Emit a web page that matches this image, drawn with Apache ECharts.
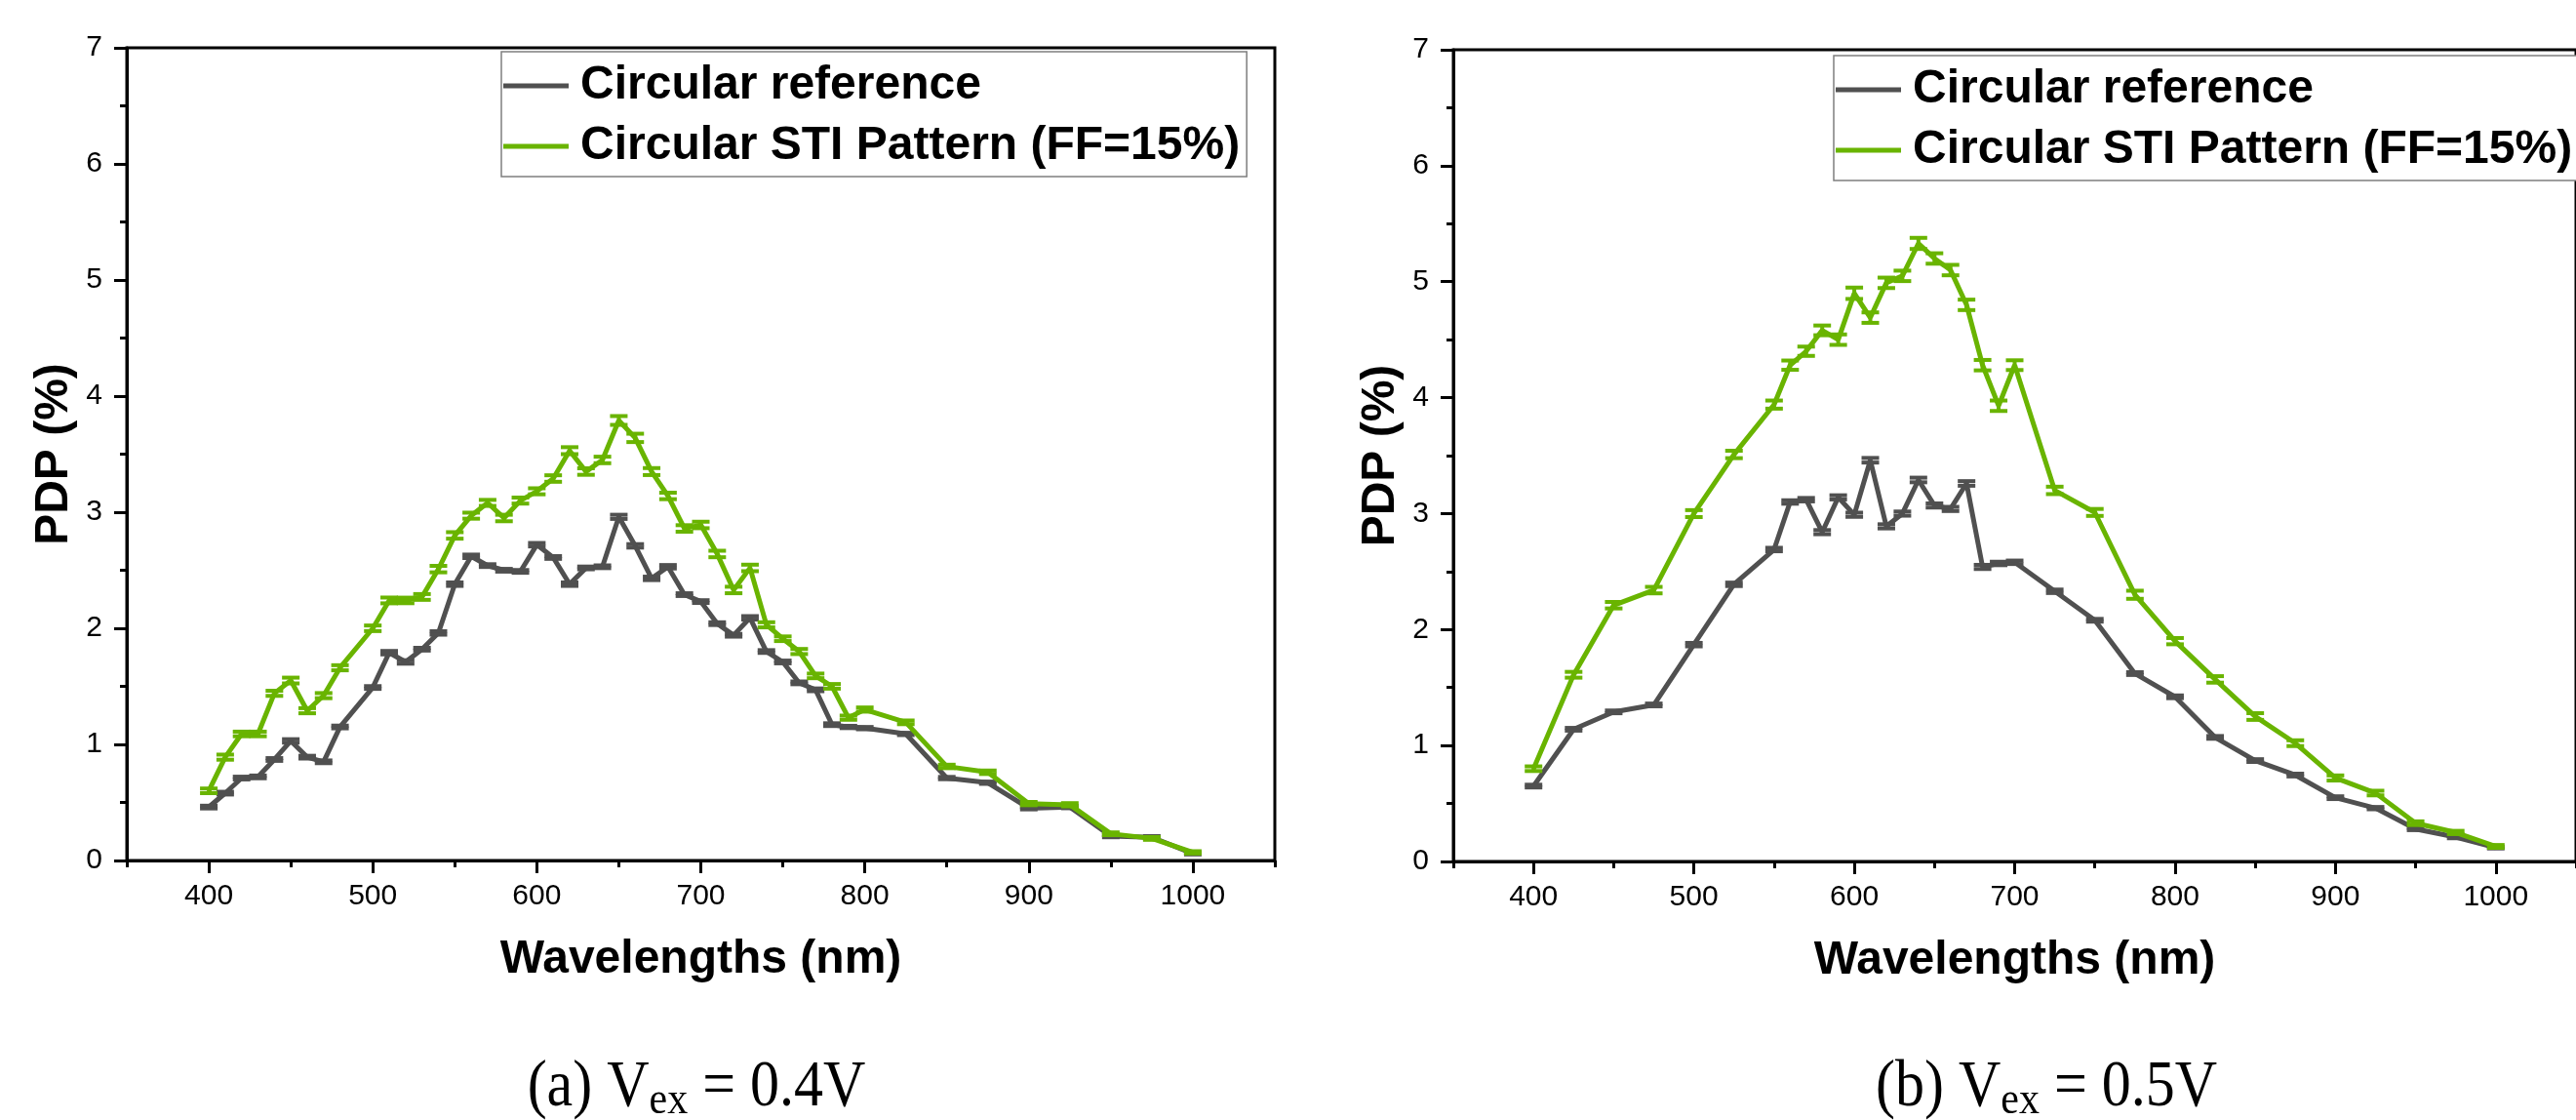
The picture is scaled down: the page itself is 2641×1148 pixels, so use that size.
<!DOCTYPE html>
<html><head><meta charset="utf-8">
<script src="https://cdn.jsdelivr.net/npm/echarts@6/dist/echarts.min.js"></script>
<style>html,body{margin:0;padding:0;background:#fff}#c{width:2641px;height:1148px}</style>
</head><body><div id="c"></div>
<script>
// ---- Panel (a): Vex = 0.4V ----
const wlA = [400,410,420,430,440,450,460,470,480,500,510,520,530,540,550,560,570,580,590,600,610,620,630,640,650,660,670,680,690,700,710,720,730,740,750,760,770,780,790,800,825,850,875,900,925,950,975,1000];
const refA = [0.46,0.58,0.71,0.72,0.87,1.03,0.89,0.85,1.15,1.49,1.79,1.71,1.82,1.96,2.38,2.62,2.54,2.50,2.49,2.72,2.61,2.38,2.52,2.53,2.96,2.71,2.43,2.53,2.29,2.23,2.04,1.94,2.09,1.80,1.71,1.53,1.47,1.17,1.15,1.14,1.09,0.71,0.67,0.45,0.46,0.21,0.20,0.06];
const stiA = [0.60,0.89,1.09,1.09,1.44,1.55,1.29,1.42,1.66,2.00,2.24,2.24,2.27,2.51,2.80,2.97,3.08,2.95,3.10,3.18,3.29,3.53,3.35,3.45,3.79,3.64,3.35,3.14,2.86,2.89,2.64,2.33,2.52,2.03,1.91,1.80,1.59,1.50,1.23,1.30,1.19,0.81,0.76,0.49,0.48,0.23,0.19,0.07];
const errRefA = [0.012,0.012,0.012,0.012,0.012,0.015,0.012,0.012,0.012,0.012,0.015,0.015,0.012,0.015,0.015,0.015,0.012,0.012,0.012,0.015,0.012,0.015,0.012,0.012,0.018,0.015,0.015,0.015,0.012,0.012,0.012,0.012,0.015,0.012,0.012,0.012,0.012,0.012,0.010,0.010,0.010,0.010,0.010,0.010,0.010,0.010,0.010,0.008];
const errStiA = [0.020,0.022,0.020,0.020,0.022,0.025,0.022,0.022,0.022,0.024,0.025,0.024,0.025,0.028,0.028,0.026,0.026,0.028,0.026,0.026,0.028,0.030,0.028,0.028,0.038,0.036,0.030,0.028,0.028,0.028,0.028,0.028,0.028,0.022,0.020,0.022,0.020,0.020,0.018,0.018,0.016,0.015,0.015,0.014,0.014,0.012,0.012,0.010];

// ---- Panel (b): Vex = 0.5V ----
const wlB = [400,425,450,475,500,525,550,560,570,580,590,600,610,620,630,640,650,660,670,680,690,700,725,750,775,800,825,850,875,900,925,950,975,1000];
const refB = [0.65,1.14,1.29,1.35,1.87,2.39,2.69,3.10,3.12,2.84,3.14,2.99,3.46,2.89,3.00,3.29,3.07,3.04,3.26,2.54,2.57,2.58,2.33,2.08,1.62,1.42,1.07,0.87,0.745,0.55,0.46,0.28,0.21,0.12];
const stiB = [0.80,1.61,2.21,2.34,3.00,3.51,3.94,4.28,4.40,4.58,4.50,4.90,4.69,4.99,5.05,5.33,5.20,5.10,4.80,4.28,3.93,4.28,3.20,3.01,2.30,1.90,1.57,1.25,1.02,0.72,0.59,0.33,0.25,0.13];
const errRefB = [0.012,0.012,0.012,0.012,0.015,0.015,0.015,0.015,0.015,0.018,0.018,0.018,0.020,0.018,0.018,0.020,0.018,0.018,0.020,0.018,0.015,0.015,0.015,0.012,0.012,0.012,0.012,0.012,0.012,0.012,0.010,0.010,0.010,0.008];
const errStiB = [0.020,0.025,0.028,0.028,0.030,0.032,0.035,0.040,0.040,0.042,0.045,0.049,0.045,0.045,0.045,0.048,0.045,0.045,0.045,0.045,0.045,0.042,0.032,0.030,0.035,0.027,0.028,0.029,0.025,0.022,0.020,0.016,0.014,0.012];

// ---- Axes / text ----
const xMajorTicks = [400,500,600,700,800,900,1000];
const xMinorTicks = [350,450,550,650,750,850,950,1050];
const legendNames = ['Circular reference','Circular STI Pattern (FF=15%)'];
const xTitle = 'Wavelengths (nm)';
const yTitle = 'PDP (%)';
const captionA = ['(a) V','ex',' = 0.4V'];
const captionB = ['(b) V','ex',' = 0.5V'];

const GRAY = '#505050', GREEN = '#69b400';
const SANS = 'Liberation Sans', SERIF = 'Liberation Serif';

const grids = [
  {left:130, top:49, width:1177, height:833},
  {left:1490, top:51, width:1177, height:832}
];

function errRender(color){
  return function(params, api){
    const x = api.value(0), y = api.value(1), e = api.value(2);
    const hi = api.coord([x, y + e]), lo = api.coord([x, y - e]);
    const hw = 9;
    const s = {stroke: color, lineWidth: 4};
    return {type:'group', children:[
      {type:'line', shape:{x1:hi[0], y1:hi[1], x2:lo[0], y2:lo[1]}, style:s},
      {type:'line', shape:{x1:hi[0]-hw, y1:hi[1], x2:hi[0]+hw, y2:hi[1]}, style:s},
      {type:'line', shape:{x1:lo[0]-hw, y1:lo[1], x2:lo[0]+hw, y2:lo[1]}, style:s}
    ]};
  };
}

const xAxis = [], yAxis = [], series = [], legend = [], graphic = [];
const panels = [
  {wl: wlA, ref: refA, sti: stiA, eRef: errRefA, eSti: errStiA, leg: {left:514, top:53}, cap: captionA, capX: 714},
  {wl: wlB, ref: refB, sti: stiB, eRef: errRefB, eSti: errStiB, leg: {left:1880, top:57}, cap: captionB, capX: 2098}
];

panels.forEach((p, g) => {
  xAxis.push({
    gridIndex: g, type: 'value', min: 350, max: 1050, position: 'bottom',
    axisLine: {show: true, onZero: false, lineStyle: {color: '#000', width: 3}},
    axisTick: {show: true, customValues: xMajorTicks, length: 13, lineStyle: {color: '#000', width: 3}},
    axisLabel: {customValues: xMajorTicks, fontSize: 30, color: '#000', fontFamily: SANS, margin: 22,
      formatter: v => String(v)},
    splitLine: {show: false},
    name: xTitle, nameLocation: 'middle', nameGap: 78,
    nameTextStyle: {fontSize: 48, fontWeight: 'bold', color: '#000', fontFamily: SANS}
  });
  xAxis.push({
    gridIndex: g, type: 'value', min: 350, max: 1050, position: 'bottom',
    axisLine: {show: false},
    axisTick: {show: true, customValues: xMinorTicks, length: 7, lineStyle: {color: '#000', width: 3}},
    axisLabel: {show: false}, splitLine: {show: false}
  });
  yAxis.push({
    gridIndex: g, type: 'value', min: 0, max: 7, interval: 1,
    axisLine: {show: true, lineStyle: {color: '#000', width: 3}},
    axisTick: {show: true, length: 13, lineStyle: {color: '#000', width: 3}},
    minorTick: {show: true, splitNumber: 2, length: 7, lineStyle: {color: '#000', width: 3}},
    axisLabel: {fontSize: 30, color: '#000', fontFamily: SANS, margin: 25, formatter: v => String(v)},
    splitLine: {show: false}, minorSplitLine: {show: false},
    name: yTitle, nameLocation: 'middle', nameGap: 50, nameRotate: 90,
    nameTextStyle: {fontSize: 48, fontWeight: 'bold', color: '#000', fontFamily: SANS}
  });
  const xi = g * 2, yi = g;
  series.push({
    name: legendNames[0], type: 'line', xAxisIndex: xi, yAxisIndex: yi,
    data: p.wl.map((x, i) => [x, p.ref[i]]), showSymbol: false, symbol: 'none',
    lineStyle: {color: GRAY, width: 5}, itemStyle: {color: GRAY}, z: 2, animation: false
  });
  series.push({
    name: 'err-ref-' + g, type: 'custom', xAxisIndex: xi, yAxisIndex: yi,
    data: p.wl.map((x, i) => [x, p.ref[i], p.eRef[i]]), encode: {x: 0, y: 1},
    renderItem: errRender(GRAY), z: 3, animation: false
  });
  series.push({
    name: legendNames[1], type: 'line', xAxisIndex: xi, yAxisIndex: yi,
    data: p.wl.map((x, i) => [x, p.sti[i]]), showSymbol: false, symbol: 'none',
    lineStyle: {color: GREEN, width: 5}, itemStyle: {color: GREEN}, z: 4, animation: false
  });
  series.push({
    name: 'err-sti-' + g, type: 'custom', xAxisIndex: xi, yAxisIndex: yi,
    data: p.wl.map((x, i) => [x, p.sti[i], p.eSti[i]]), encode: {x: 0, y: 1},
    renderItem: errRender(GREEN), z: 5, animation: false
  });
  legend.push({
    data: legendNames, orient: 'vertical', left: p.leg.left, top: p.leg.top,
    padding: [11, 7, 7, 2], itemWidth: 67, itemHeight: 5, itemGap: 14, icon: 'rect',
    borderColor: '#7f7f7f', borderWidth: 1.5, backgroundColor: '#fff', selectedMode: false,
    textStyle: {fontSize: 48, fontWeight: 'bold', color: '#000', fontFamily: SANS, lineHeight: 48, padding: [0, 0, 0, 7]},
    z: 10
  });
  graphic.push({
    type: 'text', x: p.capX, y: 1115, scaleY: 1.12, z: 10,
    style: {
      text: '{a|' + p.cap[0] + '}{s|' + p.cap[1] + '}{a|' + p.cap[2] + '}',
      align: 'center', verticalAlign: 'middle',
      rich: {
        a: {fontSize: 60, fontFamily: SERIF, lineHeight: 66, fill: '#000'},
        s: {fontSize: 42, fontFamily: SERIF, lineHeight: 30, verticalAlign: 'bottom', fill: '#000'}
      }
    }
  });
});

const chart = echarts.init(document.getElementById('c'), null, {renderer: 'canvas'});
chart.setOption({
  backgroundColor: '#fff',
  animation: false,
  grid: grids.map(g => Object.assign({show: true, borderColor: '#000', borderWidth: 3, backgroundColor: 'transparent', containLabel: false}, g)),
  xAxis, yAxis, series, legend, graphic
});
</script></body></html>
